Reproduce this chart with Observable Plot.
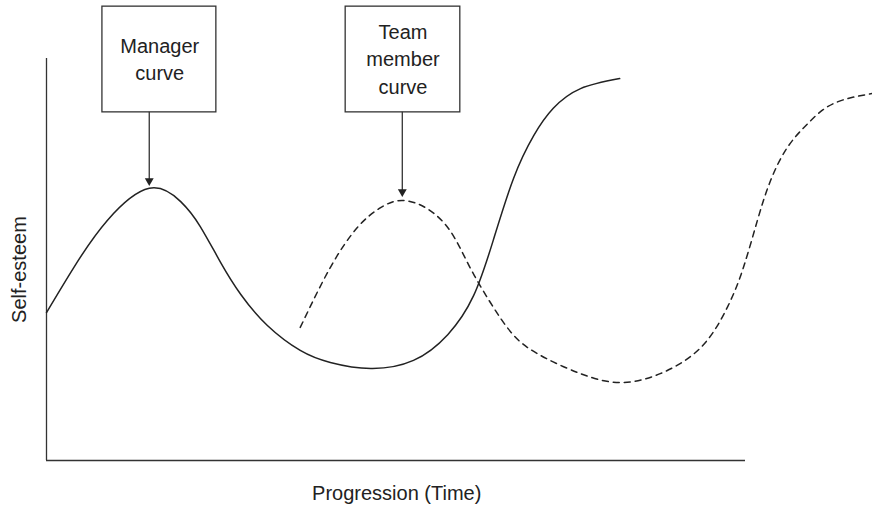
<!DOCTYPE html>
<html>
<head>
<meta charset="utf-8">
<script src="https://cdn.jsdelivr.net/npm/d3@7"></script>
<script src="https://cdn.jsdelivr.net/npm/@observablehq/plot@0.6"></script>
<style>
  html, body { margin: 0; padding: 0; background: #fff; }
  #chart { width: 872px; height: 505px; }
  svg { font-family: "Liberation Sans", Arial, Helvetica, sans-serif; }
</style>
</head>
<body>
<div id="chart"></div>
<script>
// ---- Data (time units 0..100 along the drawn axis, self-esteem 0..100) ----
const managerTime   = [0, 3.9, 8.7, 14.7, 19.2, 22.0, 24.9, 27.8, 31.6, 36.3, 40.6, 46.4, 52.5, 57.4, 61.1, 63.9, 66.8, 69.7, 72.5, 76.4, 82.0];
const managerEsteem = [36.8, 48.0, 59.7, 67.7, 64.4, 58.2, 49.3, 41.3, 33.6, 27.4, 24.4, 22.9, 24.9, 31.3, 41.0, 54.7, 70.1, 80.8, 87.6, 92.5, 95.0];

const teamTime   = [36.3, 40.6, 44.5, 47.8, 50.9, 54.5, 57.8, 60.5, 63.5, 66.5, 70.2, 76.4, 82.1, 87.8, 93.6, 97.4, 99.7, 101.7, 103.6, 106.0, 108.9, 112.6, 118.2];
const teamEsteem = [33.1, 48.0, 58.0, 62.9, 64.7, 62.6, 57.0, 48.3, 39.3, 31.8, 26.6, 21.6, 19.4, 21.6, 28.1, 38.1, 48.0, 59.7, 69.7, 77.9, 83.8, 88.8, 91.3];

const calloutLabels = ["Manager\ncurve", "Team\nmember\ncurve"];
const xAxisLabel = "Progression (Time)";
const yAxisLabel = "Self-esteem";

// ---- Build tables ----
const manager = managerTime.map((t, i) => ({t, s: managerEsteem[i]}));
const team = teamTime.map((t, i) => ({t, s: teamEsteem[i]}));

// first local maximum of a series (the hump the callout points to)
function firstPeak(series) {
  for (let i = 1; i < series.length - 1; i++) {
    if (series[i].s >= series[i - 1].s && series[i].s > series[i + 1].s) return series[i];
  }
  return series[0];
}
const mPeak = firstPeak(manager);
const tPeak = firstPeak(team);

// layout of callout boxes (in scale units)
const boxTop = 112.9, boxBottom = 86.6, textY = 100.2;
const callouts = [
  {label: calloutLabels[0], x1: 8.0, x2: 24.3, tx: 16.2, ax: mPeak.t, tip: mPeak.s + 0.5},
  {label: calloutLabels[1], x1: 42.8, x2: 59.2, tx: 51.0, ax: tPeak.t, tip: tPeak.s + 0.8}
];
const headOffset = 1.35;

const ink = "#222";

const chart = Plot.plot({
  width: 872,
  height: 505,
  marginLeft: 46,
  marginRight: 127,
  marginTop: 58,
  marginBottom: 45,
  x: {domain: [0, 100], axis: null},
  y: {domain: [0, 100], axis: null},
  style: {background: "#fff", fontFamily: "'Liberation Sans', Arial, Helvetica, sans-serif"},
  marks: [
    // axes lines
    Plot.ruleX([0], {y1: 0, y2: 100, stroke: "#333", strokeWidth: 1.3}),
    Plot.ruleY([0], {x1: 0, x2: 100, stroke: "#333", strokeWidth: 1.3}),
    // curves
    Plot.line(manager, {x: "t", y: "s", curve: "natural", stroke: ink, strokeWidth: 1.5}),
    Plot.line(team, {x: "t", y: "s", curve: "natural", stroke: ink, strokeWidth: 1.5, strokeDasharray: "6,5"}),
    // callout boxes
    Plot.rect(callouts, {x1: "x1", x2: "x2", y1: boxBottom, y2: boxTop, fill: "#fff", stroke: "#333", strokeWidth: 1.3}),
    Plot.text(callouts, {x: "tx", y: textY, text: "label", fontSize: 20, lineHeight: 1.36, fill: ink}),
    // arrows
    Plot.ruleX(callouts, {x: "ax", y1: boxBottom, y2: d => d.tip + headOffset, stroke: "#333", strokeWidth: 1.3}),
    Plot.dot(callouts, {x: "ax", y: d => d.tip + headOffset, symbol: "triangle", r: 3.3, rotate: 180, fill: "#222", stroke: "none"}),
    // axis titles
    Plot.text([xAxisLabel], {x: 50.1, frameAnchor: "bottom", dy: 33, lineAnchor: "middle", textAnchor: "middle", text: d => d, fontSize: 20, fill: ink}),
    Plot.text([yAxisLabel], {y: 47.5, frameAnchor: "left", dx: -27, rotate: -90, textAnchor: "middle", lineAnchor: "middle", text: d => d, fontSize: 20, fill: ink})
  ]
});

document.getElementById("chart").appendChild(chart);
</script>
</body>
</html>
